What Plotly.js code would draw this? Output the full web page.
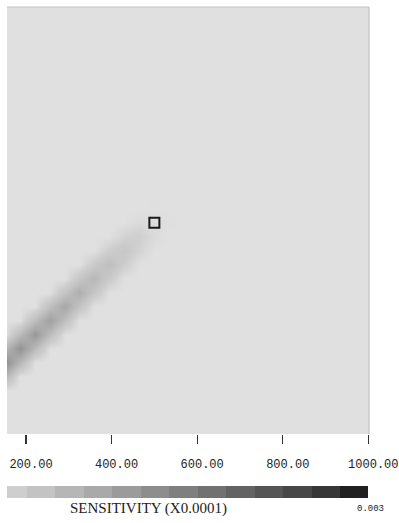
<!DOCTYPE html>
<html>
<head>
<meta charset="utf-8">
<script src="https://cdn.plot.ly/plotly-3.0.1.min.js"></script>
<style>
  html, body { margin: 0; padding: 0; background: #ffffff; }
  #chart { width: 399px; height: 523px; }
</style>
</head>
<body>
<div id="chart"></div>
<script>
// Sensitivity ridge running from the source point towards the lower left.
// Band nodes (centre line), sensitivity in units of 0.0001.
const bandX = [535, 500, 465, 430, 395, 360, 325, 290, 255, 220, 185, 150, 115, 80];
const bandY = [533, 500, 467, 435, 402, 369, 337, 304, 271, 239, 206, 173, 141, 108];
const bandValue     = [0, 0.2, 1.0, 1.7, 2.4, 3.0, 3.6, 4.2, 4.7, 5.2, 5.6, 6.0, 6.3, 6.4];
const bandEdgeValue = [0, 0.1, 0.5, 0.9, 1.2, 1.5, 1.8, 2.1, 2.4, 2.6, 2.8, 3.0, 3.2, 3.3];

// Source location
const sourceX = [500];
const sourceY = [500];

// Colour bar levels and greys
const colorbarLevels = [1, 2, 3, 4, 5, 6, 7, 8, 9, 10, 11, 12, 13];
const colorbarGrays = ['#cecece', '#c3c3c3', '#b6b6b6', '#a9a9a9', '#9b9b9b', '#8d8d8d',
                       '#7f7f7f', '#717171', '#636363', '#555555', '#474747', '#373737', '#202020'];

// Axis ticks
const tickValues = [200, 400, 600, 800, 1000];
const tickLabels = ['200.00', '400.00', '600.00', '800.00', '1000.00'];

const colorbarTitle = 'SENSITIVITY (X0.0001)';
const colorbarMaxLabel = '0.003';

// ---- grid for the field: centre line plus its immediate neighbours ----
const n = bandX.length;
const gx = bandX.slice().reverse();
const gy = bandY.slice().reverse();
const cv = bandValue.slice().reverse();
const ev = bandEdgeValue.slice().reverse();
const field = [];
for (let j = 0; j < n; j++) {
  const row = [];
  for (let i = 0; i < n; i++) {
    if (i === j) row.push(cv[i]);
    else if (Math.abs(i - j) === 1) row.push(0.5 * (ev[i] + ev[j]));
    else row.push(0);
  }
  field.push(row);
}

const nLev = colorbarLevels.length;
// continuous scale for the field: background grey at zero, then the bar greys
const fieldScale = [[0, '#e0e0e0']];
colorbarLevels.forEach((lv, i) => fieldScale.push([lv / nLev, colorbarGrays[i]]));

// stepped scale for the colour bar strip
const stepScale = [];
colorbarGrays.forEach((g, i) => {
  stepScale.push([i / nLev, g]);
  stepScale.push([(i + 1) / nLev, g]);
});

const H = 523, mT = 7, mB = 25;
const plotH = H - mT - mB;
const mainBottom = (H - mB - 434) / plotH;
const stripTop = 12 / plotH;

const traces = [
  {
    type: 'heatmap', x: gx, y: gy, z: field,
    zmin: 0, zmax: nLev, colorscale: fieldScale, zsmooth: 'best',
    showscale: false, hoverinfo: 'skip', xaxis: 'x', yaxis: 'y'
  },
  {
    type: 'scatter', mode: 'markers', x: sourceX, y: sourceY,
    marker: { symbol: 'square-open', size: 10, color: '#1a1a1a', line: { width: 2, color: '#1a1a1a' } },
    hoverinfo: 'skip', xaxis: 'x', yaxis: 'y'
  },
  {
    type: 'heatmap', x: colorbarLevels.map(v => v - 0.5), y: [0],
    z: [colorbarLevels.map(v => v - 0.5)],
    zmin: 0, zmax: nLev, colorscale: stepScale,
    showscale: false, hoverinfo: 'skip', xaxis: 'x2', yaxis: 'y2'
  }
];

const layout = {
  width: 399, height: H,
  margin: { l: 7, r: 30, t: mT, b: mB, pad: 0 },
  paper_bgcolor: '#ffffff',
  plot_bgcolor: '#e0e0e0',
  showlegend: false,
  xaxis: {
    domain: [0, 1], range: [155.6, 1001.6], anchor: 'y',
    tickmode: 'array', tickvals: tickValues, ticktext: tickLabels,
    ticks: 'outside', ticklen: 9, tickwidth: 1.3, tickcolor: '#333333',
    ticklabelstandoff: 10, ticklabelshift: 5, ticklabeloverflow: 'allow',
    tickfont: { family: 'Liberation Mono', size: 12, color: '#222222' },
    showgrid: false, zeroline: false, showline: false, fixedrange: true
  },
  yaxis: {
    domain: [mainBottom, 1], range: [6, 1004], anchor: 'x',
    visible: false, showgrid: false, zeroline: false, fixedrange: true
  },
  xaxis2: {
    domain: [0, 361 / 362], range: [0.3, 13], anchor: 'y2',
    visible: false, showgrid: false, zeroline: false
  },
  yaxis2: {
    domain: [0, stripTop], range: [-0.5, 0.5], anchor: 'x2',
    visible: false, showgrid: false, zeroline: false
  },
  shapes: [
    { type: 'line', xref: 'paper', yref: 'paper', x0: 0, x1: 1, y0: 1, y1: 1,
      line: { color: '#c2c2c2', width: 1 } },
    { type: 'line', xref: 'paper', yref: 'paper', x0: 1, x1: 1, y0: mainBottom, y1: 1,
      line: { color: '#b8b8b8', width: 1 } }
  ],
  annotations: [
    { text: colorbarTitle, xref: 'paper', yref: 'paper',
      x: (148.5 - 7) / 362, y: -(508 - (H - mB)) / plotH,
      xanchor: 'center', yanchor: 'middle', showarrow: false,
      font: { family: 'Liberation Serif', size: 15, color: '#222222' } },
    { text: colorbarMaxLabel, xref: 'paper', yref: 'paper',
      x: (370 - 7) / 362, y: -(509 - (H - mB)) / plotH,
      xanchor: 'center', yanchor: 'middle', showarrow: false,
      font: { family: 'Liberation Mono', size: 9, color: '#222222' } }
  ]
};

Plotly.newPlot('chart', traces, layout, { staticPlot: true, displayModeBar: false });
</script>
</body>
</html>
